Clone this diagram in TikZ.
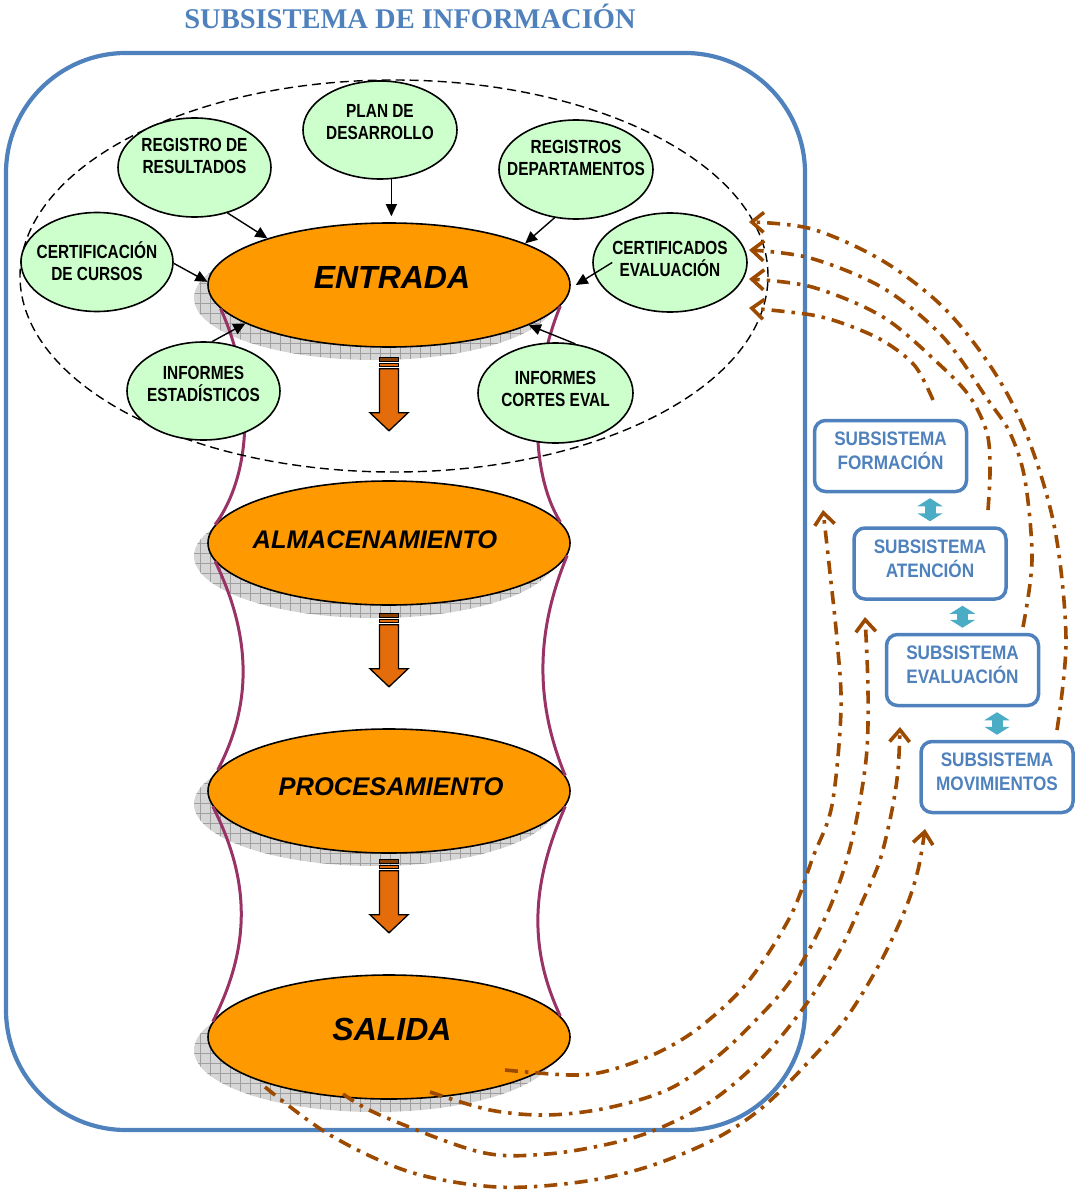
\documentclass[tikz,border=0pt]{standalone}
\usepackage{fontspec}
\setmainfont{Liberation Serif}
\setsansfont{Liberation Sans}
\newfontfamily\narrowa[FakeStretch=0.81]{Liberation Sans}
\newfontfamily\narrowb[FakeStretch=0.88]{Liberation Sans}
\usetikzlibrary{shapes.geometric, arrows.meta, patterns.meta, backgrounds, calc}

\definecolor{frameblue}{HTML}{4F81BD}
\definecolor{stageor}{HTML}{FF9900}
\definecolor{arrowor}{HTML}{E46C0A}
\definecolor{srcgreen}{HTML}{CCFFCC}
\definecolor{tealar}{HTML}{4BACC6}
\definecolor{waistpurple}{HTML}{993366}
\definecolor{flowbrown}{HTML}{9C4A00}

\tikzset{
  pics/downblock/.style={code={
    \draw[line width=1.3pt, fill=arrowor!60!black] (-9.5,0) rectangle (9.5,3.5);
    \draw[line width=1.3pt, fill=arrowor] (-9.5,5.5) rectangle (9.5,9);
    \draw[line width=1.3pt, fill=arrowor, line join=miter]
      (-9.5,11) -- (9.5,11) -- (9.5,55) -- (19,55) -- (0,73) -- (-19,55) -- (-9.5,55) -- cycle;
  }}
}

\begin{document}
\begin{tikzpicture}[x=1pt, y=-1pt,
  stage/.style={ellipse, draw=black, line width=1.6pt, fill=stageor,
    minimum width=362pt, minimum height=124pt, inner sep=0pt},
  stagetext/.style={font=\sffamily\bfseries\itshape, text=black, inner sep=0pt},
  source/.style={ellipse, draw=black, line width=1.6pt, fill=srcgreen, inner sep=0pt},
  srctext/.style={font=\narrowa\bfseries\fontsize{19}{22}\selectfont, align=center, inner sep=0pt},
  feed/.style={draw=black, line width=1.4pt, -{Triangle[length=12pt,width=11pt]}},
  subsys/.style={rectangle, rounded corners=11pt, draw=frameblue, line width=3.5pt, fill=white,
    minimum width=152pt, minimum height=71pt, inner sep=0pt},
  subtext/.style={text=frameblue, font=\narrowb\bfseries\fontsize{19.5}{24}\selectfont,
    align=center, inner sep=0pt},
  link/.style={draw=tealar, line width=11pt,
    {Triangle[length=8pt,width=25pt]}-{Triangle[length=8pt,width=25pt]},
    shorten <=5pt, shorten >=5pt},
  waist/.style={draw=waistpurple, line width=3pt},
  flow/.style={draw=flowbrown, line width=3.6pt, dash pattern=on 13pt off 7pt on 3.5pt off 7pt,
    -{Straight Barb[length=12pt,width=20pt]}},
  shadowfill/.style={fill=gray!32,
    postaction={pattern={Hatch[distance=10pt,line width=0.5pt]}, pattern color=gray!75}},
]
\useasboundingbox (0,0) rectangle (1078,1193);

% title and outer frame
\node[font=\bfseries\fontsize{28.5}{30}\selectfont, text=frameblue, inner sep=0pt]
  (title) at (410,16) {SUBSISTEMA DE INFORMACIÓN};
\draw[frameblue, line width=4.2pt, rounded corners=120pt] (6,53) rectangle (805,1130);

% the four stages
\node[stage, label={[stagetext, name=entrada-t, xshift=3pt, yshift=8pt, font=\sffamily\bfseries\itshape\fontsize{32}{34}\selectfont]center:ENTRADA}]
  (entrada) at (389,285) {};
\node[stage, label={[stagetext, name=alma-t, xshift=-14pt, yshift=3pt, font=\sffamily\bfseries\itshape\fontsize{25.5}{27}\selectfont]center:ALMACENAMIENTO}]
  (alma) at (389,543) {};
\node[stage, label={[stagetext, name=proc-t, xshift=2pt, yshift=4pt, font=\sffamily\bfseries\itshape\fontsize{25.5}{27}\selectfont]center:PROCESAMIENTO}]
  (proc) at (389,791) {};
\node[stage, label={[stagetext, name=salida-t, xshift=3pt, yshift=8pt, font=\sffamily\bfseries\itshape\fontsize{32}{34}\selectfont]center:SALIDA}]
  (salida) at (389,1037) {};

% hatched shadows under the stages
\begin{scope}[on background layer]
  \foreach \s in {entrada,alma,proc,salida}
    \path[shadowfill] ([xshift=-14pt,yshift=-13pt]\s.center) ellipse [x radius=181pt, y radius=62pt];
\end{scope}

% waisted sides joining the stages
\draw[waist] (entrada.188) .. controls +(32,70) and +(40,-55) .. (alma.174);
\draw[waist] (entrada.353) .. controls +(-30,73) and +(-31,-50) .. (alma.7);
\draw[waist] (alma.186) .. controls +(34,70) and +(37,-70) .. (proc.173);
\draw[waist] (alma.356) .. controls +(-31,75) and +(-31,-75) .. (proc.5);
\draw[waist] (proc.185) .. controls +(38,75) and +(38,-75) .. (salida.175);
\draw[waist] (proc.355) .. controls +(-33,75) and +(-33,-70) .. (salida.7);

% block arrows between stages
\pic at ($(entrada.south)+(0,10)$) {downblock};
\pic at ($(alma.south)+(0,8)$) {downblock};
\pic at ($(proc.south)+(0,6)$) {downblock};

% dashed boundary of the input sources
\draw[black, line width=1.4pt, dash pattern=on 9pt off 5pt] (394,276) ellipse [x radius=374pt, y radius=196pt];

% input sources
\node[source, minimum width=154pt, minimum height=98pt,
  label={[srctext, name=plan-t, yshift=8pt]center:{PLAN DE\\DESARROLLO}}] (plan) at (380,130) {};
\node[source, minimum width=153pt, minimum height=99pt,
  label={[srctext, name=regres-t, yshift=12pt]center:{REGISTRO DE\\RESULTADOS}}] (regres) at (194.5,167.5) {};
\node[source, minimum width=152pt, minimum height=99pt,
  label={[srctext, name=certcur-t, yshift=1pt]center:{CERTIFICACIÓN\\DE CURSOS}}] (certcur) at (97,262) {};
\node[source, minimum width=153pt, minimum height=98pt,
  label={[srctext, name=infest-t, yshift=7pt]center:{INFORMES\\ESTADÍSTICOS}}] (infest) at (203.5,391) {};
\node[source, minimum width=154pt, minimum height=99pt,
  label={[srctext, name=regdep-t, yshift=12pt]center:{REGISTROS\\DEPARTAMENTOS}}] (regdep) at (576,169.5) {};
\node[source, minimum width=154pt, minimum height=99pt,
  label={[srctext, name=certev-t, yshift=4pt]center:{CERTIFICADOS\\EVALUACIÓN}}] (certev) at (670,262.5) {};
\node[source, minimum width=155pt, minimum height=100pt,
  label={[srctext, name=infcor-t, yshift=4pt]center:{INFORMES\\CORTES EVAL}}] (infcor) at (555.5,393) {};

% sources feeding the input stage
\draw[feed, shorten >=6pt] (plan.-77) -- (plan.-77 |- entrada.north);
\draw[feed] (regres.-54) -- (entrada.159);
\draw[feed] (certcur.-1) -- (entrada.179);
\draw[feed] (infest.80) -- (entrada.195);
\draw[feed] (regdep.246) -- (entrada.17);
\draw[feed] ([xshift=20pt]certev.west) -- ([xshift=5pt]entrada.east);
\draw[feed] (infcor.68) -- (entrada.-16);

% related subsystems
\node[subsys, label={[subtext, name=form-t, yshift=5pt]center:{SUBSISTEMA\\FORMACIÓN}}] (form) at (890.5,456) {};
\node[subsys, label={[subtext, name=aten-t, yshift=5pt]center:{SUBSISTEMA\\ATENCIÓN}}] (aten) at (930,563.5) {};
\node[subsys, label={[subtext, name=evalu-t, yshift=5pt]center:{SUBSISTEMA\\EVALUACIÓN}}] (evalu) at (962.5,670) {};
\node[subsys, label={[subtext, name=movi-t, yshift=5pt]center:{SUBSISTEMA\\MOVIMIENTOS}}] (movi) at (997,777) {};

\draw[link] (aten.north) -- (aten.north |- form.south);
\draw[link] (evalu.north) -- (evalu.north |- aten.south);
\draw[link] (movi.north) -- (movi.north |- evalu.south);

% free ends of the information flows
\coordinate (in1) at (749,222);
\coordinate (in2) at (749,250);
\coordinate (in3) at (749,279);
\coordinate (in4) at (749,308);
\coordinate (mv-out) at (1057,730);
\coordinate (ev-out) at (1023,627);
\coordinate (at-out) at (988,510);
\coordinate (fo-out) at (933,400);
\coordinate (out-a) at (505,1070);
\coordinate (out-b) at (430,1092);
\coordinate (out-c) at (343,1094);
\coordinate (out-d) at (265,1087);
\coordinate (fo-in) at (823,510);
\coordinate (at-in) at (865,617);
\coordinate (ev-in) at (900,727);
\coordinate (mv-in) at (925,829);

% subsystems feeding the input
\draw[flow] plot[smooth, tension=0.55] coordinates {(mv-out) (1066,640) (1055,530) (1028,438) (993,370) (944,308) (883,261) (812,229) (in1)};
\draw[flow] plot[smooth, tension=0.55] coordinates {(ev-out) (1032,560) (1025,480) (1010,433) (988,400) (943,337) (883,288) (810,258) (in2)};
\draw[flow] plot[smooth, tension=0.55] coordinates {(at-out) (990,470) (987,433) (970,397) (940,365) (883,317) (812,287) (in3)};
\draw[flow] plot[smooth, tension=0.55] coordinates {(fo-out) (915,366) (885,342) (850,326) (812,315) (in4)};

% output feeding the subsystems
\draw[flow] plot[smooth, tension=0.55] coordinates {(out-a) (570,1075) (607,1071) (657,1053) (700,1027) (747,983) (790,917) (813,857) (832,805) (841,710) (837,640) (830,573) (fo-in)};
\draw[flow] plot[smooth, tension=0.55] coordinates {(out-b) (490,1110) (547,1115) (607,1108) (667,1090) (713,1060) (753,1023) (793,977) (830,907) (852,840) (866,760) (868,690) (at-in)};
\draw[flow] plot[smooth, tension=0.55] coordinates {(out-c) (380,1115) (480,1152) (547,1154) (613,1143) (660,1128) (713,1100) (763,1057) (807,1003) (840,950) (863,900) (880,860) (892,810) (898,770) (ev-in)};
\draw[flow] plot[smooth, tension=0.55] coordinates {(out-d) (330,1135) (410,1172) (497,1187) (580,1182) (647,1167) (713,1140) (763,1107) (813,1057) (847,1017) (880,963) (905,910) (918,870) (mv-in)};
\end{tikzpicture}
\end{document}
